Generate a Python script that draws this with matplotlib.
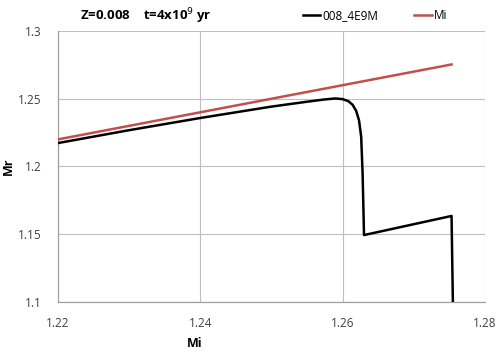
import matplotlib.pyplot as plt

plt.rcParams['font.family'] = ['Open Sans', 'DejaVu Sans']

# black track: Mr vs Mi
mi_track = [1.2200, 1.2300, 1.2400, 1.2500, 1.2550, 1.2575, 1.2590, 1.2600,
            1.2608, 1.2614, 1.2619, 1.2623, 1.2626, 1.2628, 1.2630, 1.2753, 1.2755]
mr_track = [1.2173, 1.2268, 1.2358, 1.2442, 1.2478, 1.2495, 1.2502, 1.2497,
            1.2482, 1.2455, 1.2410, 1.2340, 1.2220, 1.1950, 1.1494, 1.1635, 1.0950]

# reference line Mr = Mi
mi_ref = [1.2200, 1.2753]
mr_ref = [1.2200, 1.2753]

xticks = [1.22, 1.24, 1.26, 1.28]
yticks = [1.1, 1.15, 1.2, 1.25, 1.3]

fig = plt.figure(figsize=(5, 3.52), dpi=100)
ax = fig.add_axes([0.116, 0.142, 0.854, 0.770])

ax.plot(mi_track, mr_track, color='black', lw=1.8, label='008_4E9M', zorder=3)
ax.plot(mi_ref, mr_ref, color='#C0504D', lw=1.8, label='Mi', zorder=3)

ax.set_xlim(1.22, 1.28)
ax.set_ylim(1.1, 1.3)
ax.set_xticks(xticks)
ax.set_xticklabels([f"{v:.2f}" for v in xticks])
ax.set_yticks(yticks)
ax.set_yticklabels(['1.1', '1.15', '1.2', '1.25', '1.3'])
ax.tick_params(length=0, labelsize=8.5, colors='#404040')
ax.tick_params(axis='x', pad=11)
ax.tick_params(axis='y', pad=12)
ax.grid(True, color='#BFBFBF', lw=0.8)
for side in ['top', 'right']:
    ax.spines[side].set_visible(False)
for side in ['left', 'bottom']:
    ax.spines[side].set_color('#A0A0A0')
    ax.spines[side].set_linewidth(0.9)

ax.set_xlabel('Mi', fontsize=9, fontweight='bold')
ax.xaxis.set_label_coords(0.32, -0.13)
ax.set_ylabel('Mr', fontsize=9, fontweight='bold', rotation=90)
ax.yaxis.set_label_coords(-0.1, 0.5)

fig.text(0.16, 0.955, r'Z=0.008    t=4x10$^{9}$ yr', fontsize=9.5,
         fontweight='bold', va='center')

fig.legend(loc='center', bbox_to_anchor=(0.75, 0.955), ncol=2, frameon=False,
           fontsize=8.5, handlelength=1.5, handletextpad=0.2, columnspacing=3.0)

fig.savefig('out.png', dpi=100)
